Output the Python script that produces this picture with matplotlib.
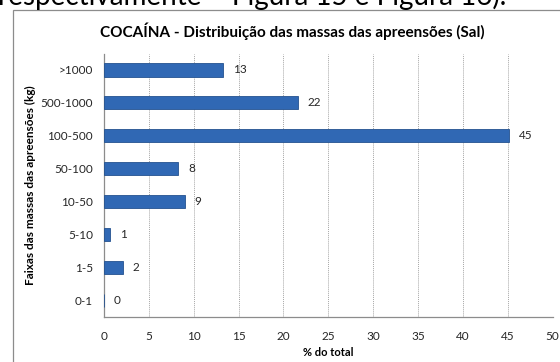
import matplotlib.pyplot as plt
from matplotlib.patches import Rectangle

plt.rcParams['font.family'] = ['Lato', 'DejaVu Sans']

# Share of seizures per mass range (%), bottom-to-top order
faixas = ["0-1", "1-5", "5-10", "10-50", "50-100", "100-500", "500-1000", ">1000"]
percentuais = [0.0, 2.1, 0.7, 9.0, 8.3, 45.2, 21.6, 13.3]
x_ticks = list(range(0, 55, 5))

BAR_COLOR = "#3068b4"
EDGE_COLOR = "#24528f"
GRID_COLOR = "#a6a6a6"

fig = plt.figure(figsize=(5.6, 3.62), dpi=100)

# Text from the page the chart sits in, cut by the top edge
fig.text(-0.003, 1 - 5 / 362, "respectivamente \u2013 Figura 15 e Figura 16).",
         fontsize=20, ha="left", va="baseline", color="black")

# Chart frame
fig.patches.append(Rectangle((13 / 560, -0.05), 1.2, 1 - 10 / 362 + 0.05,
                             transform=fig.transFigure, fill=False,
                             edgecolor="#8c8c8c", linewidth=0.9))

ax = fig.add_axes([104 / 560, 1 - 317 / 362, 448.5 / 560, 263.5 / 362])

ypos = list(range(len(faixas)))
bars = ax.barh(ypos, percentuais, height=0.4, color=BAR_COLOR,
               edgecolor=EDGE_COLOR, linewidth=0.6, zorder=3)

for bar, val in zip(bars, percentuais):
    ax.text(bar.get_width() + 1.1, bar.get_y() + bar.get_height() / 2,
            f"{val:.0f}", ha="left", va="center", fontsize=8.5, color="#262626")

ax.set_xlim(0, 50)
ax.set_ylim(-0.5, len(faixas) - 0.5)
ax.set_xticks(x_ticks)
ax.set_yticks(ypos)
ax.set_yticklabels(faixas)
ax.tick_params(axis="both", length=0, labelsize=8.5, colors="#262626")
ax.tick_params(axis="x", pad=10)
ax.tick_params(axis="y", pad=8)

ax.grid(axis="x", linestyle=(0, (1, 1)), color=GRID_COLOR, linewidth=0.7, zorder=0)
for side in ("top", "right"):
    ax.spines[side].set_visible(False)
for side in ("left", "bottom"):
    ax.spines[side].set_color("#8c8c8c")
    ax.spines[side].set_linewidth(0.9)

ax.set_xlabel("% do total", fontsize=8, fontweight="bold", labelpad=4)
ax.set_ylabel("Faixas das massas das apreensões (kg)", fontsize=8.5,
              fontweight="bold", labelpad=3)

fig.text(292 / 560, 1 - 31 / 362,
         "COCAÍNA - Distribuição das massas das apreensões (Sal)",
         ha="center", va="center", fontsize=11, fontweight="bold")

fig.savefig("out.png", dpi=100)
